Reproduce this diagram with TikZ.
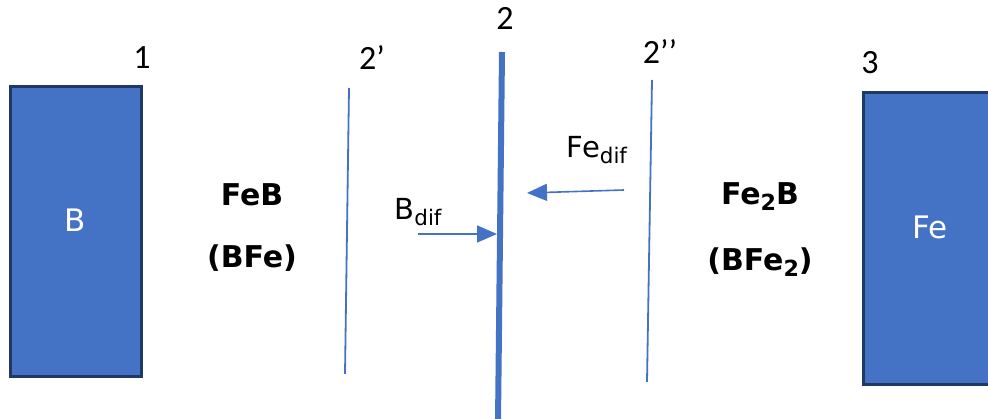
\documentclass[tikz,border=0pt]{standalone}
\usepackage{fontspec}
\setmainfont{DejaVu Sans}
\newfontfamily\numfont{Carlito}
\usetikzlibrary{arrows.meta}
\definecolor{layerblue}{RGB}{68,114,196}
\definecolor{edgenavy}{RGB}{32,56,100}
\newcommand{\lowsub}[1]{\raisebox{-0.2em}{\scalebox{0.74}{#1}}}
\tikzset{
    block/.style={draw=edgenavy,line width=3pt,fill=layerblue,inner sep=0pt},
    blocktext/.style={text=white,font=\fontsize{31}{34}\selectfont},
    thinfront/.style={layerblue,line width=1.8pt},
    mainfront/.style={layerblue,line width=6pt},
    diffvec/.style={-{Triangle[length=20pt,width=17pt]},layerblue,line width=1.6pt},
    phaselabel/.style={font=\bfseries\fontsize{30}{34}\selectfont},
    poslabel/.style={font=\numfont\fontsize{34}{38}\selectfont},
    flowlabel/.style={font=\fontsize{29}{32}\selectfont}
}

\begin{document}
\begin{tikzpicture}[x=1pt,y=-1pt]
    \useasboundingbox (0,0) rectangle (988,419);
    % Boron block
    \node[block,minimum width=131pt,minimum height=290pt] (boxB) at (76,231.5) {};
    \node[blocktext] (txtB) at (75,220) {B};
    % Iron block
    \node[block,minimum width=136pt,minimum height=292pt] (boxFe) at (931.5,238.5) {};
    \node[blocktext] (txtFe) at (930,227) {Fe};
    % Interfaces
    \coordinate (f1top) at (349,88);
    \coordinate (f1bot) at (345,374);
    \coordinate (f2top) at (502,52);
    \coordinate (f2bot) at (498,422);
    \coordinate (f3top) at (652,80);
    \coordinate (f3bot) at (647,382);
    \draw[thinfront] (f1top) -- (f1bot);
    \draw[mainfront] (f2top) -- (f2bot);
    \draw[thinfront] (f3top) -- (f3bot);
    % Position numbers
    \node[poslabel] (n1) at (142,58) {1};
    \node[poslabel] (n2a) at (372,58) {2’};
    \node[poslabel] (n2) at (505,18) {2};
    \node[poslabel] (n2b) at (660,52) {2’’};
    \node[poslabel] (n3) at (870,63) {3};
    % Phases
    \node[phaselabel] (feb) at (252,195) {FeB};
    \node[phaselabel] (bfe) at (252,258) {(BFe)};
    \node[phaselabel] (fe2b) at (760,197) {Fe\lowsub{2}B};
    \node[phaselabel] (bfe2) at (760,262) {(BFe\lowsub{2})};
    % Diffusion
    \node[flowlabel] (bdif) at (418,212) {B\lowsub{dif}};
    \node[flowlabel] (fedif) at (597,150) {Fe\lowsub{dif}};
    \coordinate (bstart) at (418,234);
    \coordinate (bend) at (497,234);
    \coordinate (festart) at (624,190);
    \coordinate (feend) at (527,193);
    \draw[diffvec] (bstart) -- (bend);
    \draw[diffvec] (festart) -- (feend);
\end{tikzpicture}
\end{document}
